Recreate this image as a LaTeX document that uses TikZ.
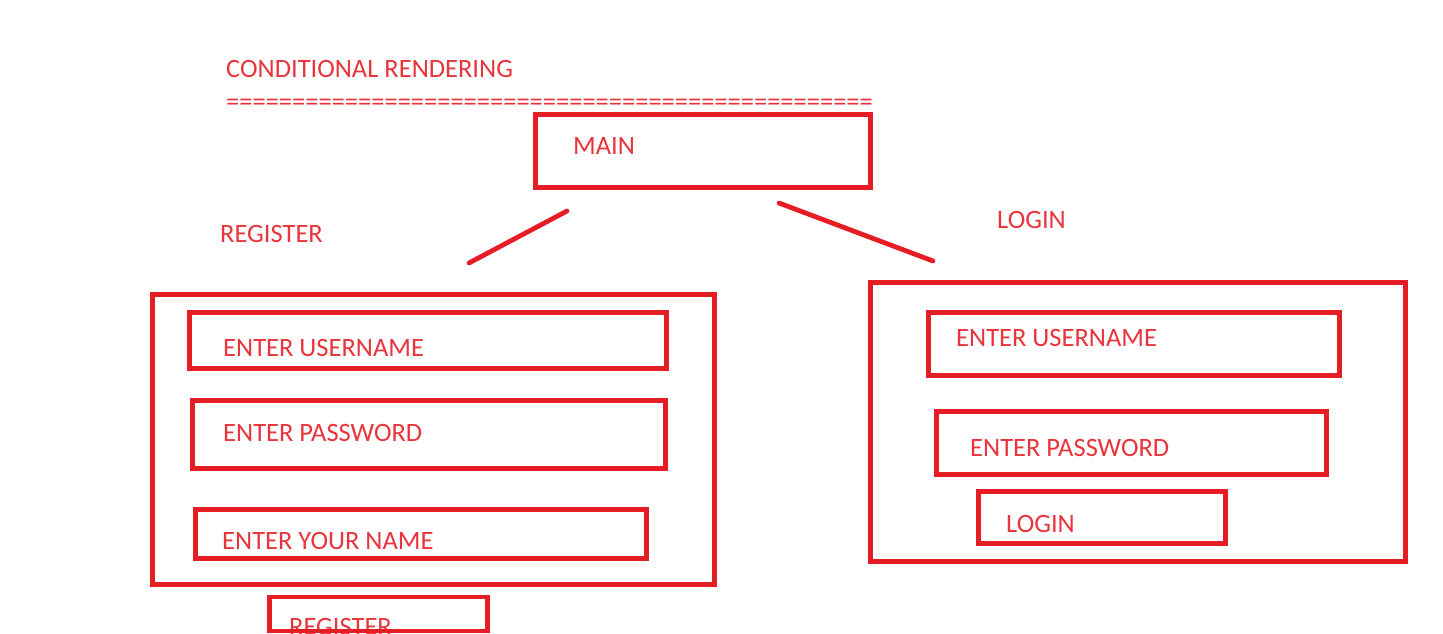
\documentclass[tikz,border=0pt]{standalone}
\usepackage{fontspec}
\setmainfont{Carlito}
\definecolor{paintred}{RGB}{229,30,37}
\definecolor{textred}{RGB}{232,52,60}
\begin{document}
\begin{tikzpicture}
        [x=1pt, y=-1pt,
        box/.style={draw=paintred, line width=4.8pt, inner sep=0pt},
        lbl/.style={text=textred, font=\fontsize{26.5}{26.5}\selectfont, anchor=base west, inner sep=0pt},
        stroke/.style={draw=paintred, line width=4.8pt, line cap=round}]
        \useasboundingbox (0,0) rectangle (1443,633);
        \clip (0,0) rectangle (1443,633);
        
        \node[lbl] (title) at (226,77) {CONDITIONAL RENDERING};
        \node[lbl] (rule) at (226,110) {=================================================};
        
        \node[box, minimum width=335, minimum height=73] (main) at (703,151) {};
        \node[lbl] (mainText) at (573,154) {MAIN};
        
        \node[lbl] (regLabel) at (220,242) {REGISTER};
        \node[lbl] (logLabel) at (997,228) {LOGIN};
        
        \coordinate (regTop) at (567,211);
        \coordinate (regEnd) at (469,263);
        \coordinate (logTop) at (779,203);
        \coordinate (logEnd) at (933,261);
        \draw[stroke] (regTop) -- (regEnd);
        \draw[stroke] (logTop) -- (logEnd);
        
        % register form
        \node[box, minimum width=562, minimum height=290] (regFrame) at (433.5,439.5) {};
        \node[box, minimum width=477, minimum height=56] (regUser) at (428,340.5) {};
        \node[box, minimum width=473, minimum height=68] (regPass) at (429,434.5) {};
        \node[box, minimum width=451, minimum height=49] (regName) at (421,534) {};
        \node[lbl] (regUserText) at (223,356) {ENTER USERNAME};
        \node[lbl] (regPassText) at (223,441) {ENTER PASSWORD};
        \node[lbl] (regNameText) at (222,549) {ENTER YOUR NAME};
        \node[lbl] (regBtnText) at (289,635) {REGISTER};
        \node[box, minimum width=218, minimum height=34] (regBtn) at (378.5,614) {};
        
        % login form
        \node[box, minimum width=535, minimum height=279] (logFrame) at (1138,422) {};
        \node[box, minimum width=411, minimum height=63] (logUser) at (1134,344) {};
        \node[box, minimum width=390, minimum height=63] (logPass) at (1131.5,443) {};
        \node[box, minimum width=247, minimum height=52] (logBtn) at (1102,517.5) {};
        \node[lbl] (logUserText) at (956,346) {ENTER USERNAME};
        \node[lbl] (logPassText) at (970,456) {ENTER PASSWORD};
        \node[lbl] (logBtnText) at (1006,532) {LOGIN};
    
    \end{tikzpicture}
\end{document}
